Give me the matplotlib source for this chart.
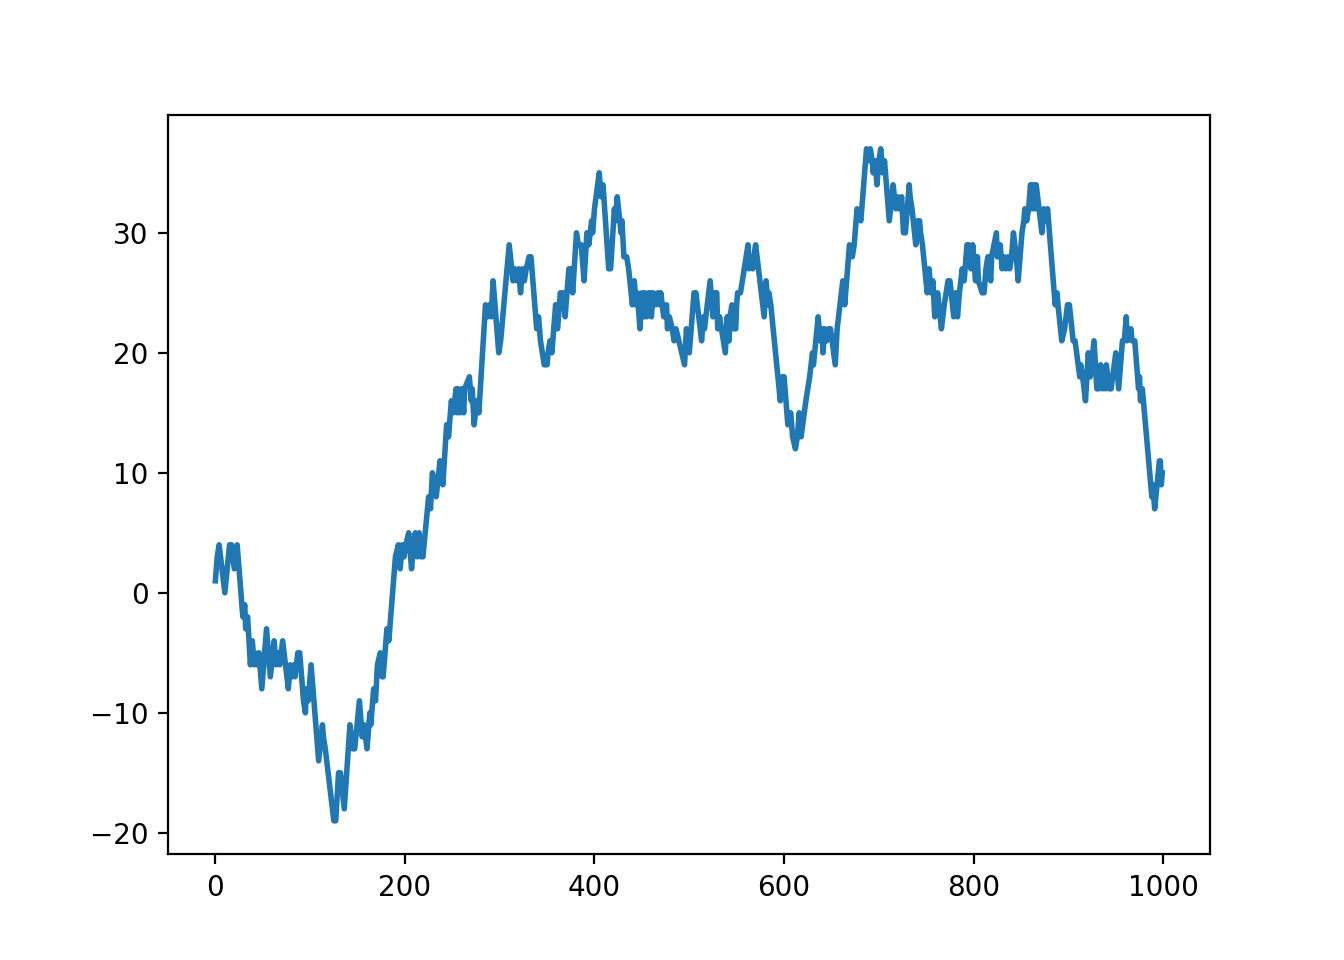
import matplotlib
matplotlib.use('Agg')
import matplotlib.pyplot as plt

# turning points of the walk (step, value)
steps = [
    0, 2, 4, 10, 15, 17, 20, 23, 29, 31, 32, 34, 37, 39, 41, 42, 44, 46, 49, 54,
    58, 62, 64, 66, 68, 71, 74, 77, 79, 81, 83, 84, 87, 89, 93, 95, 96, 98, 101, 109,
    113, 114, 116, 125, 127, 130, 132, 136, 142, 145, 147, 152, 155, 157, 160, 163, 164, 167, 169, 171,
    174, 176, 177, 181, 183, 190, 193, 195, 197, 199, 201, 204, 207, 209, 211, 213, 215, 217, 219, 225,
    227, 229, 233, 237, 240, 244, 246, 249, 251, 254, 255, 256, 258, 260, 262, 263, 268, 270, 271, 273,
    276, 278, 285, 287, 289, 291, 293, 299, 301, 310, 314, 316, 318, 320, 322, 324, 326, 328, 331, 333,
    339, 341, 343, 347, 350, 351, 353, 355, 359, 361, 364, 366, 367, 369, 373, 375, 377, 381, 383, 386,
    389, 392, 394, 397, 398, 400, 405, 407, 409, 415, 417, 421, 422, 424, 428, 429, 431, 434, 436, 440,
    442, 444, 445, 448, 450, 452, 453, 455, 457, 459, 460, 462, 465, 467, 469, 470, 473, 476, 477, 479,
    482, 484, 486, 495, 497, 500, 503, 505, 507, 513, 515, 516, 522, 525, 527, 529, 530, 532, 538, 540,
    542, 543, 545, 547, 549, 550, 551, 554, 562, 563, 566, 567, 568, 570, 579, 581, 583, 584, 586, 596,
    598, 600, 604, 607, 609, 612, 614, 616, 618, 623, 625, 627, 630, 631, 636, 638, 640, 641, 643, 645,
    647, 649, 654, 656, 662, 664, 669, 672, 674, 677, 681, 685, 687, 689, 691, 693, 694, 696, 698, 700,
    702, 704, 706, 711, 715, 718, 720, 722, 724, 726, 728, 732, 733, 735, 739, 741, 743, 744, 746, 751,
    753, 755, 757, 759, 762, 766, 769, 773, 775, 779, 781, 783, 785, 788, 790, 793, 795, 797, 799, 802,
    804, 805, 809, 811, 813, 815, 818, 819, 824, 825, 828, 830, 832, 834, 836, 838, 840, 842, 845, 847,
    851, 853, 854, 856, 858, 860, 862, 863, 865, 866, 869, 872, 874, 876, 878, 886, 888, 889, 893, 896,
    899, 901, 905, 907, 912, 913, 915, 918, 921, 923, 927, 930, 932, 934, 936, 938, 939, 940, 943, 945,
    950, 953, 957, 959, 961, 962, 966, 967, 970, 974, 975, 976, 978, 988, 989, 991, 996, 997, 998, 999,
]
values = [
    1, 3, 4, 0, 4, 4, 2, 4, -2, -1, -3, -2, -6, -4, -6, -5, -6, -5, -8, -3,
    -7, -4, -6, -5, -6, -4, -6, -8, -6, -7, -6, -7, -5, -5, -9, -10, -8, -9, -6, -14,
    -11, -12, -13, -19, -19, -15, -15, -18, -11, -13, -13, -9, -12, -11, -13, -10, -11, -8, -9, -6,
    -5, -7, -7, -3, -4, 3, 4, 2, 4, 3, 4, 5, 2, 4, 5, 3, 5, 3, 3, 8,
    7, 10, 8, 11, 9, 14, 13, 16, 15, 17, 15, 17, 15, 17, 15, 17, 18, 16, 17, 14,
    16, 15, 24, 23, 24, 23, 26, 20, 21, 29, 26, 27, 26, 27, 25, 27, 26, 27, 28, 28,
    22, 23, 21, 19, 19, 20, 21, 20, 24, 22, 25, 24, 25, 23, 27, 27, 25, 30, 29, 29,
    26, 30, 29, 31, 30, 32, 35, 33, 34, 27, 27, 32, 31, 33, 30, 31, 28, 28, 27, 24,
    26, 24, 25, 22, 25, 23, 25, 23, 25, 25, 23, 25, 24, 25, 24, 25, 23, 24, 22, 23,
    22, 21, 22, 19, 22, 20, 23, 25, 25, 21, 23, 22, 26, 23, 25, 25, 22, 23, 20, 23,
    21, 23, 24, 22, 22, 24, 25, 25, 29, 27, 28, 27, 28, 29, 23, 26, 24, 25, 24, 16,
    18, 18, 14, 15, 13, 12, 13, 15, 13, 16, 17, 18, 20, 19, 23, 21, 22, 20, 22, 21,
    22, 22, 19, 22, 26, 24, 29, 28, 29, 32, 31, 35, 37, 36, 37, 36, 35, 36, 34, 36,
    37, 35, 36, 31, 34, 32, 33, 32, 33, 30, 30, 34, 33, 32, 29, 31, 31, 30, 29, 25,
    27, 25, 26, 23, 25, 22, 24, 26, 26, 23, 25, 23, 25, 27, 26, 29, 29, 27, 29, 26,
    28, 26, 25, 25, 27, 28, 26, 28, 30, 28, 29, 27, 28, 27, 28, 27, 28, 30, 28, 26,
    30, 31, 32, 31, 32, 34, 32, 34, 32, 34, 32, 30, 32, 31, 32, 24, 25, 24, 21, 22,
    24, 24, 21, 21, 18, 19, 18, 16, 20, 18, 21, 17, 17, 19, 17, 18, 17, 19, 17, 17,
    20, 17, 21, 21, 23, 21, 22, 21, 21, 17, 18, 16, 17, 8, 9, 7, 11, 11, 9, 10,
]

fig, ax = plt.subplots(figsize=(6.72, 4.8), dpi=200)
ax.plot(steps, values, color='#1f77b4', linewidth=2)
fig.savefig('out.png', dpi=200)
plt.close(fig)
